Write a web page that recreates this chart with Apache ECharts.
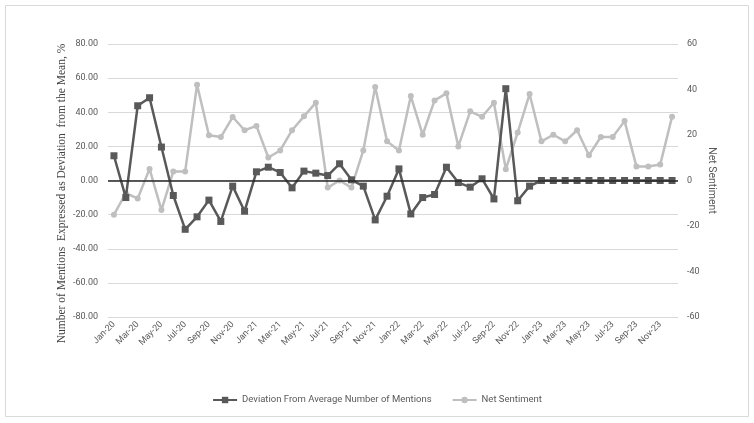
<!DOCTYPE html>
<html>
<head>
<meta charset="utf-8">
<script src="https://cdn.jsdelivr.net/npm/echarts@6/dist/echarts.min.js"></script>
<style>
  html, body { margin: 0; padding: 0; background: #fff; }
  #chart { width: 754px; height: 423px; }
</style>
</head>
<body>
<div id="chart"></div>
<script>
const years = ['20', '21', '22', '23']
const monthNames = ['Jan', 'Feb', 'Mar', 'Apr', 'May', 'Jun', 'Jul', 'Aug', 'Sep', 'Oct', 'Nov', 'Dec']
const months = years.flatMap(y => monthNames.map(m => m + '-' + y))

const deviation = [
  14.5, -10, 43.8, 48.5, 19.6, -8.8, -28.6, -21.3, -11.5, -24, -3.3, -18,
  5.1, 7.8, 4.7, -4.3, 5.5, 4.3, 2.9, 9.8, 0.4, -3.3, -23.1, -9.2,
  6.8, -19.6, -10, -8.2, 7.8, -1.2, -3.9, 1.0, -10.8, 53.8, -11.9, -3.3,
  0, 0, 0, 0, 0, 0, 0, 0, 0, 0, 0, 0
]
const netSentiment = [
  -15, -5.6, -7.9, 5.1, -13, 4, 4, 42.1, 19.9, 19.1, 27.9, 22.1,
  24, 10.1, 13.2, 22.1, 28.2, 34.2, -3.1, 0, -3.1, 13.2, 41.1, 17.2,
  13.2, 37.1, 20.1, 35.2, 38.3, 15, 30.4, 28, 34.2, 5, 21.1, 38,
  17.2, 20.1, 17.2, 22.1, 11.1, 19.1, 19.1, 26.1, 6.2, 6.2, 7, 28
]

const labelFont = { color: '#595959', fontSize: 9, fontFamily: 'Roboto' }

var myChart = echarts.init(document.getElementById('chart'))
myChart.setOption({
  animation: false,
  graphic: [
    {
      type: 'rect',
      shape: { x: 5.5, y: 5.5, width: 743, height: 411 },
      style: { fill: 'none', stroke: '#d9d9d9', lineWidth: 1 },
      silent: true
    }
  ],
  grid: { left: 108, right: 76, top: 44, bottom: 106 },
  legend: {
    bottom: 13,
    left: 'center',
    itemWidth: 24,
    itemHeight: 8,
    itemGap: 20,
    textStyle: { color: '#595959', fontSize: 9.5, fontFamily: 'Roboto' },
    data: ['Deviation From Average Number of Mentions', 'Net Sentiment']
  },
  xAxis: {
    type: 'category',
    data: months,
    axisLine: { show: false },
    axisTick: { show: false },
    axisLabel: Object.assign({ interval: 1, rotate: 45, margin: 6 }, labelFont)
  },
  yAxis: [
    {
      type: 'value',
      min: -80,
      max: 80,
      interval: 20,
      name: 'Number of Mentions  Expressed as Deviation  from the Mean, %',
      nameLocation: 'middle',
      nameGap: 40,
      nameMoveOverlap: false,
      nameTextStyle: { color: '#404040', fontSize: 11.5, fontFamily: 'Liberation Serif', padding: [0, 26, 0, 0] },
      axisLine: { show: false },
      axisTick: { show: false },
      axisLabel: Object.assign({ formatter: v => v.toFixed(2), margin: 10 }, labelFont),
      splitLine: { lineStyle: { color: '#d9d9d9', width: 1 } }
    },
    {
      type: 'value',
      min: -60,
      max: 60,
      interval: 20,
      name: 'Net Sentiment',
      nameLocation: 'middle',
      nameGap: 28,
      nameMoveOverlap: false,
      nameRotate: -90,
      nameTextStyle: { color: '#595959', fontSize: 10.5, fontFamily: 'Roboto' },
      axisLine: { show: false },
      axisTick: { show: false },
      axisLabel: Object.assign({ margin: 9 }, labelFont),
      splitLine: { show: false }
    }
  ],
  series: [
    {
      name: 'Net Sentiment',
      type: 'line',
      yAxisIndex: 1,
      data: netSentiment,
      symbol: 'circle',
      symbolSize: 6,
      lineStyle: { color: '#bfbfbf', width: 2.5 },
      itemStyle: { color: '#bfbfbf' },
      z: 2
    },
    {
      name: 'Deviation From Average Number of Mentions',
      type: 'line',
      yAxisIndex: 0,
      data: deviation,
      symbol: 'rect',
      symbolSize: 7,
      lineStyle: { color: '#595959', width: 2.5 },
      itemStyle: { color: '#595959' },
      markLine: {
        silent: true,
        symbol: 'none',
        label: { show: false },
        lineStyle: { color: '#262626', width: 1.5, type: 'solid' },
        data: [{ yAxis: 0 }]
      },
      z: 3
    }
  ]
})
</script>
</body>
</html>
